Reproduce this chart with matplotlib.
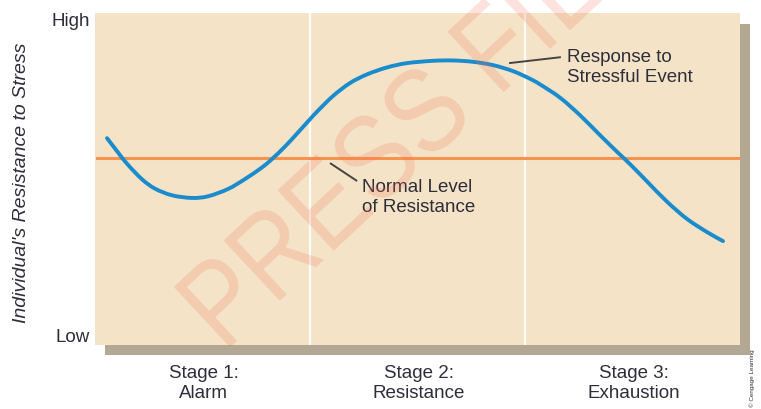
import matplotlib.pyplot as plt
from matplotlib.patches import Rectangle, PathPatch
from matplotlib.path import Path
from matplotlib.textpath import TextPath
from matplotlib.font_manager import FontProperties
import matplotlib.transforms as mtransforms

plt.rcParams['font.family'] = ['Liberation Sans', 'DejaVu Sans']

# ===== data (x: stages 0..3, y: 0 = Low .. 1 = High) =====
stage_labels = ["Stage 1:\nAlarm", "Stage 2:\nResistance", "Stage 3:\nExhaustion"]
response_x = [0.056, 0.107, 0.153, 0.219, 0.279, 0.358, 0.451, 0.526, 0.619, 0.698,
              0.777, 0.823, 0.884, 0.944, 1.000, 1.033, 1.107, 1.186, 1.265, 1.358,
              1.451, 1.572, 1.665, 1.758, 1.851, 1.944, 2.023, 2.070, 2.163, 2.256,
              2.349, 2.428, 2.488, 2.567, 2.660, 2.753, 2.847, 2.921]
response_y = [0.623, 0.580, 0.543, 0.499, 0.471, 0.451, 0.443, 0.448, 0.470, 0.500,
              0.535, 0.560, 0.598, 0.640, 0.680, 0.703, 0.750, 0.789, 0.815, 0.836,
              0.849, 0.856, 0.857, 0.853, 0.843, 0.825, 0.802, 0.785, 0.745, 0.692,
              0.632, 0.582, 0.545, 0.493, 0.432, 0.380, 0.340, 0.313]
normal_level = 0.563
stage_edges = [1, 2]


# smooth drawing of the read points (Catmull-Rom -> cubic Bezier)
def smooth_path(xs, ys):
    pts = list(zip(xs, ys))
    verts = [pts[0]]
    codes = [Path.MOVETO]
    for i in range(len(pts) - 1):
        p0 = pts[max(i - 1, 0)]
        p1, p2 = pts[i], pts[i + 1]
        p3 = pts[min(i + 2, len(pts) - 1)]
        c1 = (p1[0] + (p2[0] - p0[0]) / 6, p1[1] + (p2[1] - p0[1]) / 6)
        c2 = (p2[0] - (p3[0] - p1[0]) / 6, p2[1] - (p3[1] - p1[1]) / 6)
        verts += [c1, c2, p2]
        codes += [Path.CURVE4] * 3
    return Path(verts, codes)


W, H = 761, 409
fig = plt.figure(figsize=(W / 100, H / 100), dpi=100)

# ===== panel (pixel geometry) =====
left, right, top, bottom = 95, 740, 13, 345
ax = fig.add_axes([left / W, 1 - bottom / H, (right - left) / W, (bottom - top) / H])
ax.set_facecolor('#f4e3c7')
ax.set_xlim(0, 3)
ax.set_ylim(0, 1)
for s in ax.spines.values():
    s.set_visible(False)
ax.set_xticks([])
ax.set_yticks([])

# drop shadow
shadow = Rectangle(((left + 10) / W, 1 - (bottom + 10) / H), (right - left) / W,
                   (bottom - top - 1) / H, transform=fig.transFigure,
                   facecolor='#b3a893', edgecolor='none', zorder=-1)
fig.patches.append(shadow)

for e in stage_edges:
    ax.axvline(e, color='white', lw=1.6, alpha=0.9, zorder=1)

ax.plot([0.01, 2.99], [normal_level, normal_level], color='#f7924f', lw=2.2, zorder=2)
ax.add_patch(PathPatch(smooth_path(response_x, response_y), facecolor='none',
                       edgecolor='#1a8bcc', lw=2.8, capstyle='round', zorder=3))

# ===== labels =====
txt = dict(fontsize=13.5, color='#2e2e3a', linespacing=1.25)
lead = dict(color='#444444', lw=1.4, solid_capstyle='butt')
ax.plot([1.926, 2.167], [0.849, 0.867], **lead)
ax.text(2.195, 0.893, "Response to\nStressful Event", ha='left', va='top', **txt)
ax.plot([1.093, 1.219], [0.548, 0.494], **lead)
ax.text(1.242, 0.500, "Normal Level\nof Resistance", ha='left', va='top', **txt)

fig.text(90 / W, 1 - 22 / H, "High", ha='right', va='center', **txt)
fig.text(90 / W, 1 - 338 / H, "Low", ha='right', va='center', **txt)
fig.text(22 / W, 1 - 183 / H, "Individual's Resistance to Stress", rotation=90,
         ha='center', va='center', style='italic', fontsize=14, color='#2e2e3a')
for i, lab in enumerate(stage_labels):
    ax.text(i + 0.505, -0.06, lab, ha='center', va='top', clip_on=False, **txt)

fig.text(752 / W, 1 - 378 / H, "© Cengage Learning", rotation=90, ha='center',
         va='center', fontsize=4.5, color='#2e2e3a')

# ===== faint watermark =====
fp = FontProperties(family='Liberation Sans')
tp = TextPath((0, 0), "PRESS FILE", size=120, prop=fp)
tr = mtransforms.Affine2D().scale(0.85, 1).rotate_deg(43).translate(224, 56)
wm = PathPatch(tr.transform_path(tp), facecolor='#f26b50', edgecolor='none',
               alpha=0.2, zorder=10)
wm.set_transform(mtransforms.IdentityTransform())
fig.patches.append(wm)

fig.savefig('out.png', dpi=100)
